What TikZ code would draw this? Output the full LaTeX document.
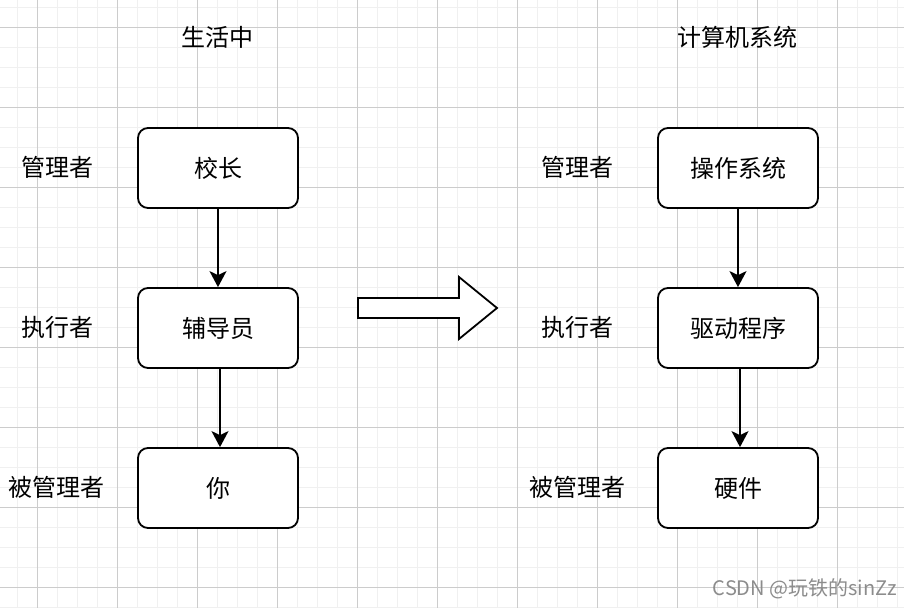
\documentclass[tikz,border=0pt]{standalone}
\usepackage{fontspec}
\usepackage{tikz}
\usetikzlibrary{arrows.meta,positioning}
\newfontfamily\cjk{Noto Sans CJK SC}

\begin{document}
\begin{tikzpicture}[x=1pt,y=-1pt,>={Stealth[length=16pt,width=17pt,inset=4pt]},
    node distance=160pt,
    font=\cjk\fontsize{24}{28}\selectfont,
    box/.style={draw,line width=1.8pt,rounded corners=10pt,minimum width=160pt,minimum height=80pt,fill=white},
    role/.style={},
    link/.style={->,line width=1.8pt}]
  \useasboundingbox (0,0) rectangle (904,608);
  \fill[white] (0,0) rectangle (904,608);
  % grid
  \foreach \x in {17,37,...,897}
    \draw[black!6,line width=0.8pt] (\x,0) -- (\x,608);
  \foreach \y in {7,27,...,607}
    \draw[black!6,line width=0.8pt] (0,\y) -- (904,\y);
  \foreach \x in {37,117,...,837}
    \draw[black!20,line width=0.8pt] (\x,0) -- (\x,608);
  \foreach \y in {27,107,...,587}
    \draw[black!20,line width=0.8pt] (0,\y) -- (904,\y);

  % left column
  \node (life) at (217,37) {生活中};
  \node[box] (head)   at (218,168) {校长};
  \node[box] (tutor)  [below of=head]  {辅导员};
  \node[box] (you)    [below of=tutor] {你};
  \node[role] (lmgr)  at (57,167) {管理者};
  \node[role] (lexec) at (57,327) {执行者};
  \node[role] (lsub)  at (57,487) {被管理者};

  % right column
  \node (comp) at (737,37) {计算机系统};
  \node[box] (os)     at (738,168) {操作系统};
  \node[box] (driver) [below of=os]     {驱动程序};
  \node[box] (hw)     [below of=driver] {硬件};
  \node[role] (rmgr)  at (577,167) {管理者};
  \node[role] (rexec) at (577,327) {执行者};
  \node[role] (rsub)  at (577,487) {被管理者};

  \draw[link] (head) -- (tutor);
  \draw[link] ([xshift=2pt]tutor.south) -- ([xshift=2pt]you.north);
  \draw[link] (os) -- (driver);
  \draw[link] ([xshift=2pt]driver.south) -- ([xshift=2pt]hw.north);

  % big arrow
  \draw[line width=1.8pt,fill=white,line join=miter]
    (358,298) -- (459,298) -- (459,277) -- (497,308) -- (459,339) -- (459,318) -- (358,318) -- cycle;

  \node[text=black!45,font=\cjk\fontsize{20}{24}\selectfont] (mark) at (805,589) {CSDN @玩铁的sinZz};
\end{tikzpicture}
\end{document}
